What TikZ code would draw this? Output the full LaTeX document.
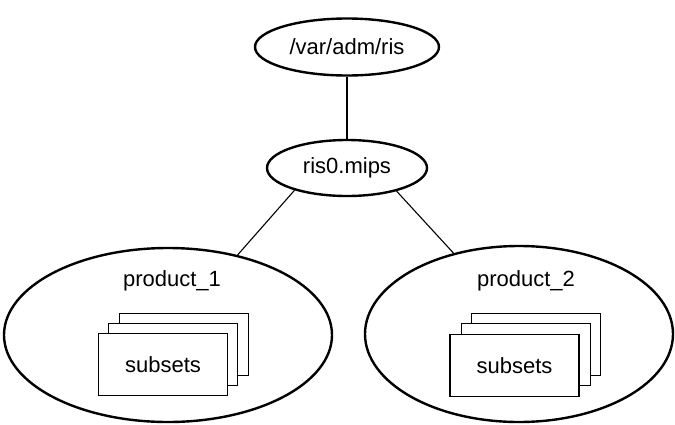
\documentclass[tikz,border=0pt]{standalone}
\usepackage{fontspec}
\setmainfont{Liberation Sans}
\usetikzlibrary{shapes.geometric}
\begin{document}
\begin{tikzpicture}[x=1pt,y=-1pt,
  every node/.style={font=\fontsize{22}{24}\selectfont},
  oval/.style={ellipse,draw,line width=2.4pt,inner sep=0pt},
  card/.style={rectangle,draw,line width=1.4pt,fill=white,minimum width=129pt,minimum height=62pt,inner sep=0pt},
  link/.style={line width=1.1pt}]
\useasboundingbox (0,0) rectangle (675,424);
\node[oval,minimum width=184pt,minimum height=57pt] (top) at (347,47) {/var/adm/ris};
\node[oval,minimum width=160pt,minimum height=56pt] (mips) at (347,168) {ris0.mips};
\node[oval,minimum width=328pt,minimum height=174pt] (p1) at (168,335) {};
\node[oval,minimum width=308pt,minimum height=176pt] (p2) at (519,334) {};
\node (l1) at (172,281) {product\_1};
\node (l2) at (526,281) {product\_2};
% left stack
\node[card] (a3) at (184,344.5) {};
\node[card] (a2) at (173,354.5) {};
\node[card] (a1) at (163,364.5) {subsets};
% right stack
\node[card] (b3) at (536,344.5) {};
\node[card] (b2) at (526,354.5) {};
\node[card] (b1) at (514.5,365.5) {subsets};
\draw[link] (top.south) -- (mips.north);
\draw[link] (mips.203) -- (p1.49);
\draw[link] (mips.335) -- (p2.129);
\end{tikzpicture}
\end{document}
